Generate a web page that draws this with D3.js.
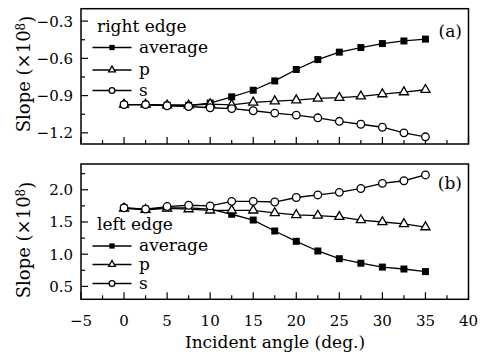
<!DOCTYPE html>
<html>
<head>
<meta charset="utf-8">
<script src="https://cdn.jsdelivr.net/npm/d3@7"></script>
<style>
  body { margin: 0; background: #fff; }
  svg { display: block; font-family: "DejaVu Serif", serif; }
</style>
</head>
<body>
<div id="chart"></div>
<script>
// Data
const angles = [0, 2.5, 5, 7.5, 10, 12.5, 15, 17.5, 20, 22.5, 25, 27.5, 30, 32.5, 35];

const rightAvg = [-0.972, -0.972, -0.978, -0.978, -0.960, -0.910, -0.857, -0.782, -0.690, -0.610, -0.550, -0.513, -0.481, -0.460, -0.445];
const rightP   = [-0.972, -0.972, -0.978, -0.978, -0.968, -0.975, -0.955, -0.945, -0.937, -0.923, -0.917, -0.906, -0.888, -0.872, -0.853];
const rightS   = [-0.972, -0.972, -0.982, -0.988, -0.998, -1.005, -1.022, -1.041, -1.057, -1.079, -1.107, -1.131, -1.155, -1.200, -1.232];

const leftAvg = [1.72, 1.70, 1.72, 1.72, 1.70, 1.62, 1.53, 1.36, 1.20, 1.05, 0.93, 0.86, 0.80, 0.77, 0.73];
const leftP   = [1.71, 1.69, 1.71, 1.70, 1.68, 1.68, 1.68, 1.64, 1.61, 1.60, 1.58, 1.53, 1.50, 1.47, 1.42];
const leftS   = [1.72, 1.70, 1.74, 1.76, 1.75, 1.82, 1.82, 1.81, 1.88, 1.92, 1.96, 2.02, 2.10, 2.14, 2.23];

const xTicks = [-5, 0, 5, 10, 15, 20, 25, 30, 35, 40];
const xMinor = [-2.5, 2.5, 7.5, 12.5, 17.5, 22.5, 27.5, 32.5, 37.5];
const topTicks = [-0.3, -0.6, -0.9, -1.2];
const topMinor = [-0.45, -0.75, -1.05];
const bottomTicks = [0.5, 1.0, 1.5, 2.0];
const bottomMinor = [0.75, 1.25, 1.75, 2.25];
const seriesNames = ["average", "p", "s"];

const width = 480, height = 358;
const svg = d3.select("#chart").append("svg")
    .attr("width", width)
    .attr("height", height);

const x = d3.scaleLinear().domain([-5, 40]).range([81, 468.5]);

const fmt = v => (v < 0 ? "\u2212" : "") + Math.abs(v).toFixed(1);

function drawPanel(opts) {
    const y = d3.scaleLinear().domain(opts.yDomain).range([opts.bottom, opts.top]);
    const g = svg.append("g");

    // x ticks (inward)
    g.selectAll(".xt").data(xTicks).enter().append("line")
        .attr("x1", d => x(d)).attr("x2", d => x(d))
        .attr("y1", opts.bottom).attr("y2", opts.bottom - 7)
        .attr("stroke", "#000").attr("stroke-width", 1.2);
    g.selectAll(".xm").data(xMinor).enter().append("line")
        .attr("x1", d => x(d)).attr("x2", d => x(d))
        .attr("y1", opts.bottom).attr("y2", opts.bottom - 4)
        .attr("stroke", "#000").attr("stroke-width", 1.2);

    // y ticks (inward)
    g.selectAll(".yt").data(opts.ticks).enter().append("line")
        .attr("x1", 81).attr("x2", 88)
        .attr("y1", d => y(d)).attr("y2", d => y(d))
        .attr("stroke", "#000").attr("stroke-width", 1.2);
    g.selectAll(".ym").data(opts.minor).enter().append("line")
        .attr("x1", 81).attr("x2", 85)
        .attr("y1", d => y(d)).attr("y2", d => y(d))
        .attr("stroke", "#000").attr("stroke-width", 1.2);

    g.selectAll(".yl").data(opts.ticks).enter().append("text")
        .attr("x", 73).attr("y", d => y(d))
        .attr("dy", "0.36em")
        .attr("text-anchor", "end")
        .style("font-size", "15px")
        .text(fmt);

    // frame
    g.append("rect")
        .attr("x", 81).attr("y", opts.top)
        .attr("width", 468.5 - 81).attr("height", opts.bottom - opts.top)
        .attr("fill", "none").attr("stroke", "#000").attr("stroke-width", 1.5);

    // series
    const line = d3.line().x((d, i) => x(angles[i])).y(d => y(d));
    opts.series.forEach((vals, k) => {
        g.append("path").datum(vals)
            .attr("d", line)
            .attr("fill", "none").attr("stroke", "#000").attr("stroke-width", 1.3);
        drawMarkers(g, vals.map((v, i) => [x(angles[i]), y(v)]), k, 1);
    });

    // legend
    g.append("text")
        .attr("x", opts.legendX).attr("y", opts.legendTitleY)
        .style("font-size", "17px")
        .text(opts.title);
    opts.legendRows.forEach((ly, k) => {
        g.append("line")
            .attr("x1", 92.5).attr("x2", 131.5)
            .attr("y1", ly).attr("y2", ly)
            .attr("stroke", "#000").attr("stroke-width", 1.6);
        drawMarkers(g, [[112, ly]], k, 0.75);
        g.append("text")
            .attr("x", 139).attr("y", ly)
            .attr("dy", "0.3em")
            .style("font-size", "17px")
            .text(seriesNames[k]);
    });

    // panel label
    g.append("text")
        .attr("x", 462).attr("y", opts.labelY)
        .attr("text-anchor", "end")
        .style("font-size", "17px")
        .text(opts.label);

    // y title
    const yt = g.append("text")
        .attr("transform", `translate(30,${opts.titleY}) rotate(-90)`)
        .attr("text-anchor", "middle")
        .style("font-size", "18px");
    yt.append("tspan").text("Slope (\u00d710");
    yt.append("tspan").attr("dy", "-0.45em").style("font-size", "12px").text("8");
    yt.append("tspan").attr("dy", "0.45em").text(")");
}

function drawMarkers(g, pts, k, scale) {
    if (k === 0) {
        g.selectAll(null).data(pts).enter().append("path")
            .attr("d", d3.symbol().type(d3.symbolSquare).size(49 * scale * scale))
            .attr("transform", d => `translate(${d[0]},${d[1]})`)
            .attr("fill", "#000");
    } else if (k === 1) {
        g.selectAll(null).data(pts).enter().append("path")
            .attr("d", d3.symbol().type(d3.symbolTriangle).size(36 * scale * scale))
            .attr("transform", d => `translate(${d[0]},${d[1]})`)
            .attr("fill", "#fff").attr("stroke", "#000").attr("stroke-width", 1.3);
    } else {
        g.selectAll(null).data(pts).enter().append("circle")
            .attr("cx", d => d[0]).attr("cy", d => d[1])
            .attr("r", 3.8 * scale)
            .attr("fill", "#fff").attr("stroke", "#000").attr("stroke-width", 1.3);
    }
}

drawPanel({
    top: 8.7, bottom: 144, yDomain: [-1.29, -0.2],
    ticks: topTicks, minor: topMinor,
    series: [rightAvg, rightP, rightS],
    title: "right edge", legendX: 97, legendTitleY: 32.3,
    legendRows: [47.5, 70, 90.5],
    label: "(a)", labelY: 37, titleY: 74
});

drawPanel({
    top: 164, bottom: 299.3, yDomain: [0.3, 2.4],
    ticks: bottomTicks, minor: bottomMinor,
    series: [leftAvg, leftP, leftS],
    title: "left edge", legendX: 97, legendTitleY: 229.5,
    legendRows: [246, 264.5, 283.5],
    label: "(b)", labelY: 189, titleY: 240
});

// x tick labels
svg.selectAll(".xl").data(xTicks).enter().append("text")
    .attr("x", d => x(d)).attr("y", 326)
    .attr("text-anchor", "middle")
    .style("font-size", "15px")
    .text(d => (d < 0 ? "\u2212" : "") + Math.abs(d));

svg.append("text")
    .attr("x", 275).attr("y", 348)
    .attr("text-anchor", "middle")
    .style("font-size", "17px")
    .text("Incident angle (deg.)");
</script>
</body>
</html>
